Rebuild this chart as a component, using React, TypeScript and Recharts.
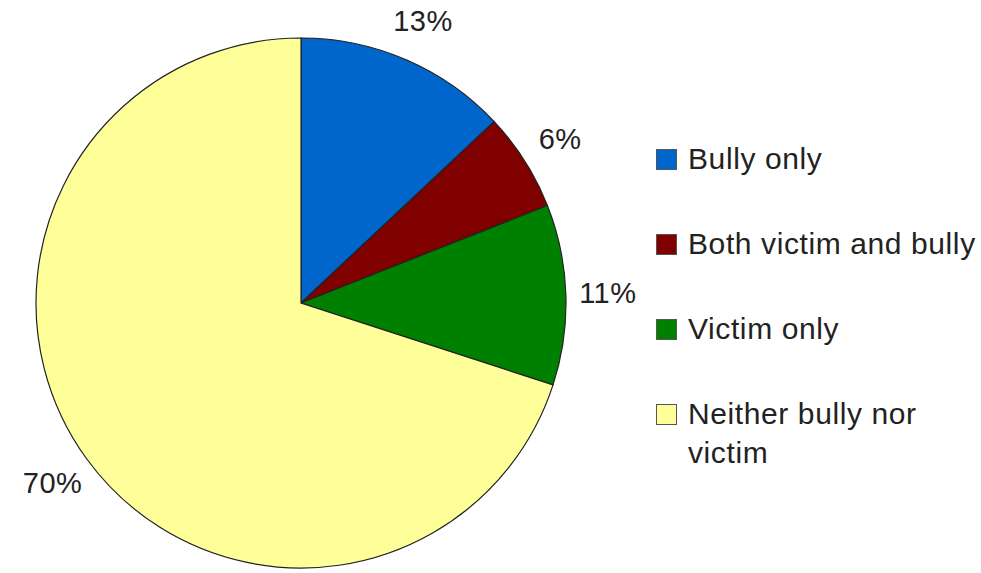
import React from "react";
import { Cell, Legend, Pie, PieChart } from "recharts";

const categories = [
  "Bully only",
  "Both victim and bully",
  "Victim only",
  "Neither bully nor victim",
];
const percents = [13, 6, 11, 70];
const colors = ["#0066CC", "#800000", "#008000", "#FFFF99"];

const chartData = categories.map((name, i) => ({
  name,
  value: percents[i],
  color: colors[i],
}));

const FONT = "'Liberation Sans', Arial, sans-serif";
const RADIAN = Math.PI / 180;

// percent labels sit a bit outside the rim, centered on the slice's mid angle
function renderLabel(props: any) {
  const { cx, cy, midAngle, outerRadius, value } = props;
  const r = outerRadius + 42;
  const x = cx + r * Math.cos(-midAngle * RADIAN);
  const y = cy + r * Math.sin(-midAngle * RADIAN);
  return (
    <text
      x={x}
      y={y}
      textAnchor="middle"
      dominantBaseline="central"
      fill="#222"
      fontSize={29}
      letterSpacing={0.5}
      fontFamily={FONT}
    >
      {`${value}%`}
    </text>
  );
}

// legend keeps the data order (recharts would sort it by name)
function renderLegend() {
  return (
    <div style={{ fontFamily: FONT, fontSize: 30, letterSpacing: 0.6, color: "#222" }}>
      {chartData.map((entry, index) => (
        <div
          key={`legend-${index}`}
          style={{
            display: "flex",
            alignItems: "flex-start",
            height: 85,
            lineHeight: "39px",
          }}
        >
          <div
            style={{
              width: 19,
              height: 19,
              marginTop: 10,
              marginRight: 11,
              flexShrink: 0,
              backgroundColor: entry.color,
              border: "1px solid #555",
            }}
          />
          <span style={{ width: 292 }}>{entry.name}</span>
        </div>
      ))}
    </div>
  );
}

export default function App() {
  return (
    <div style={{ position: "absolute", left: 0, top: 0, background: "#fff" }}>
      <PieChart
        width={981}
        height={573}
        margin={{ top: 0, right: 0, bottom: 0, left: 0 }}
      >
        <Pie
          data={chartData}
          dataKey="value"
          nameKey="name"
          cx={301}
          cy={303}
          outerRadius={265}
          startAngle={90}
          endAngle={-270}
          stroke="#222"
          strokeWidth={1.2}
          label={renderLabel}
          labelLine={false}
          isAnimationActive={false}
        >
          {chartData.map((entry, index) => (
            <Cell key={`cell-${index}`} fill={entry.color} />
          ))}
        </Pie>
        <Legend
          content={renderLegend}
          wrapperStyle={{ position: "absolute", left: 656, top: 139, width: 325 }}
        />
      </PieChart>
    </div>
  );
}
